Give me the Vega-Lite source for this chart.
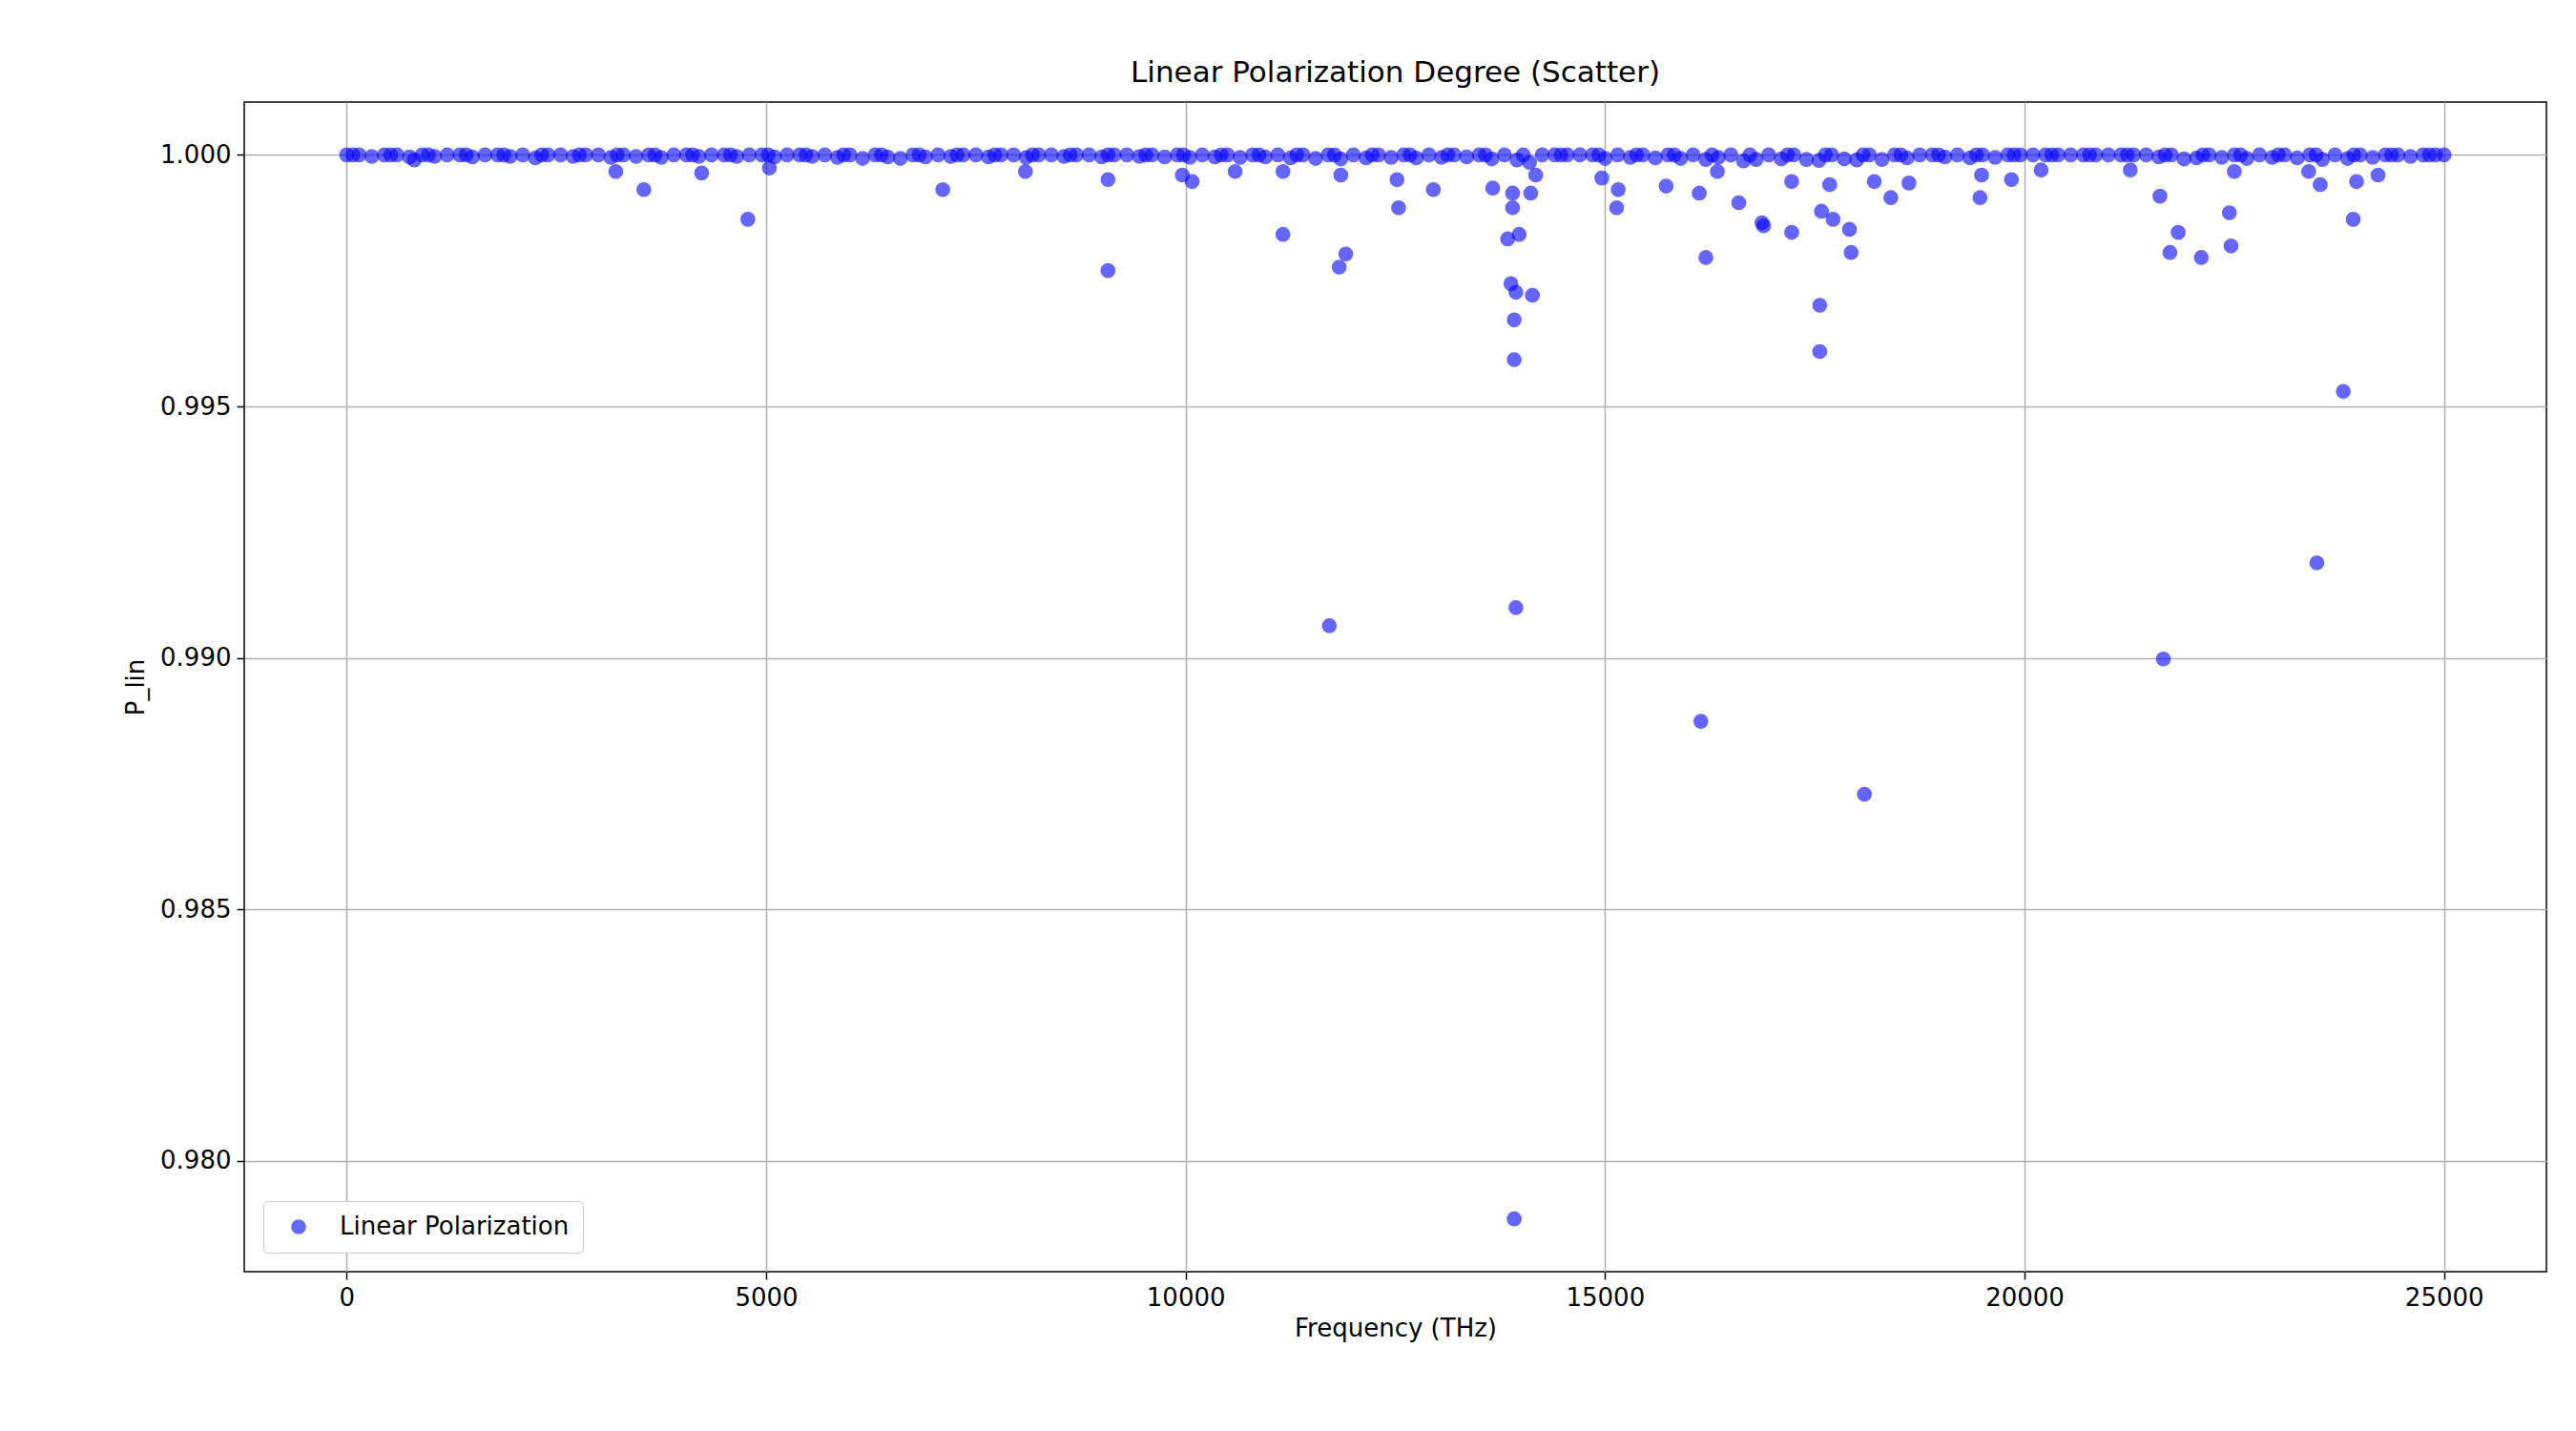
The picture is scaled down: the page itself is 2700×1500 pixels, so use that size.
{
  "$schema": "https://vega.github.io/schema/vega-lite/v6.json",
  "width": 2413,
  "height": 1226,
  "autosize": {"type": "none"},
  "padding": {"left": 256, "top": 107, "right": 31, "bottom": 167},
  "background": "white",
  "config": {
    "font": "DejaVu Sans",
    "view": {"stroke": "black", "strokeWidth": 1.5},
    "axis": {"labelFontSize": 26, "titleFontSize": 26, "titleFontWeight": "normal", "labelColor": "black", "titleColor": "black", "gridColor": "#b0b0b0", "gridWidth": 1.5, "tickColor": "black", "tickSize": 8, "tickWidth": 1.5, "domain": false, "labelPadding": 6}
  },
  "title": {"text": "Linear Polarization Degree (Scatter)", "fontSize": 31, "fontWeight": "normal", "offset": 14},
  "data": {
    "values": [
      {"f":0,"p":1},{"f":150,"p":1},{"f":300,"p":0.99997},{"f":450,"p":1},{"f":600,"p":1},{"f":750,"p":0.99996},{"f":900,"p":1},{"f":1050,"p":0.99997},{"f":1200,"p":1},{"f":1350,"p":1},
      {"f":1500,"p":0.99996},{"f":1650,"p":1},{"f":1800,"p":1},{"f":1950,"p":0.99997},{"f":2100,"p":1},{"f":2250,"p":0.99994},{"f":2400,"p":1},{"f":2550,"p":1},{"f":2700,"p":0.99997},{"f":2850,"p":1},
      {"f":3000,"p":1},{"f":3150,"p":0.99995},{"f":3300,"p":1},{"f":3450,"p":0.99997},{"f":3600,"p":1},{"f":3750,"p":0.99995},{"f":3900,"p":1},{"f":4050,"p":1},{"f":4200,"p":0.99997},{"f":4350,"p":1},
      {"f":4500,"p":1},{"f":4650,"p":0.99997},{"f":4800,"p":1},{"f":4950,"p":1},{"f":5100,"p":0.99996},{"f":5250,"p":1},{"f":5400,"p":1},{"f":5550,"p":0.99997},{"f":5700,"p":1},{"f":5850,"p":0.99995},
      {"f":6000,"p":1},{"f":6150,"p":0.99993},{"f":6300,"p":1},{"f":6450,"p":0.99996},{"f":6600,"p":0.99993},{"f":6750,"p":1},{"f":6900,"p":0.99996},{"f":7050,"p":1},{"f":7200,"p":0.99997},{"f":7350,"p":1},
      {"f":7500,"p":1},{"f":7650,"p":0.99996},{"f":7800,"p":1},{"f":7950,"p":1},{"f":8100,"p":0.99995},{"f":8250,"p":1},{"f":8400,"p":1},{"f":8550,"p":0.99997},{"f":8700,"p":1},{"f":8850,"p":1},
      {"f":9000,"p":0.99996},{"f":9150,"p":1},{"f":9300,"p":1},{"f":9450,"p":0.99997},{"f":9600,"p":1},{"f":9750,"p":0.99996},{"f":9900,"p":1},{"f":10050,"p":0.99995},{"f":10200,"p":1},{"f":10350,"p":0.99996},
      {"f":10500,"p":1},{"f":10650,"p":0.99995},{"f":10800,"p":1},{"f":10950,"p":0.99996},{"f":11100,"p":1},{"f":11250,"p":0.99994},{"f":11400,"p":1},{"f":11550,"p":0.99993},{"f":11700,"p":1},{"f":11850,"p":0.99992},
      {"f":12000,"p":1},{"f":12150,"p":0.99994},{"f":12300,"p":1},{"f":12450,"p":0.99995},{"f":12600,"p":1},{"f":12750,"p":0.99994},{"f":12900,"p":1},{"f":13050,"p":0.99995},{"f":13200,"p":1},{"f":13350,"p":0.99996},
      {"f":13500,"p":1},{"f":13650,"p":0.99992},{"f":13800,"p":1},{"f":13950,"p":0.9999},{"f":14100,"p":0.99985},{"f":14250,"p":1},{"f":14400,"p":1},{"f":14550,"p":1},{"f":14700,"p":1},{"f":14850,"p":1},
      {"f":15000,"p":0.99993},{"f":15150,"p":1},{"f":15300,"p":0.99995},{"f":15450,"p":1},{"f":15600,"p":0.99994},{"f":15750,"p":1},{"f":15900,"p":0.99993},{"f":16050,"p":1},{"f":16200,"p":0.99991},{"f":16350,"p":0.99995},
      {"f":16500,"p":1},{"f":16650,"p":0.99988},{"f":16800,"p":0.99991},{"f":16950,"p":1},{"f":17100,"p":0.99992},{"f":17250,"p":1},{"f":17400,"p":0.99991},{"f":17550,"p":0.99989},{"f":17700,"p":1},{"f":17850,"p":0.99992},
      {"f":18000,"p":0.9999},{"f":18150,"p":1},{"f":18300,"p":0.99991},{"f":18450,"p":1},{"f":18600,"p":0.99994},{"f":18750,"p":1},{"f":18900,"p":1},{"f":19050,"p":0.99996},{"f":19200,"p":1},{"f":19350,"p":0.99994},
      {"f":19500,"p":1},{"f":19650,"p":0.99995},{"f":19800,"p":1},{"f":19950,"p":1},{"f":20100,"p":1},{"f":20250,"p":1},{"f":20400,"p":1},{"f":20550,"p":1},{"f":20700,"p":1},{"f":20850,"p":1},
      {"f":21000,"p":1},{"f":21150,"p":1},{"f":21300,"p":1},{"f":21450,"p":1},{"f":21600,"p":0.99996},{"f":21750,"p":1},{"f":21900,"p":0.99992},{"f":22050,"p":0.99994},{"f":22200,"p":1},{"f":22350,"p":0.99995},
      {"f":22500,"p":1},{"f":22650,"p":0.99993},{"f":22800,"p":1},{"f":22950,"p":0.99995},{"f":23100,"p":1},{"f":23250,"p":0.99994},{"f":23400,"p":1},{"f":23550,"p":0.99991},{"f":23700,"p":1},{"f":23850,"p":0.99993},
      {"f":24000,"p":1},{"f":24150,"p":0.99995},{"f":24300,"p":1},{"f":24450,"p":1},{"f":24600,"p":0.99997},{"f":24750,"p":1},{"f":24900,"p":1},{"f":25000,"p":1},
      {"f":75,"p":1},{"f":525,"p":1},{"f":975,"p":1},{"f":1425,"p":1},{"f":1875,"p":1},{"f":2325,"p":1},{"f":2775,"p":1},{"f":3225,"p":1},{"f":3675,"p":1},{"f":4125,"p":1},
      {"f":4575,"p":1},{"f":5025,"p":1},{"f":5475,"p":1},{"f":5925,"p":1},{"f":6375,"p":1},{"f":6825,"p":1},{"f":7275,"p":1},{"f":7725,"p":1},{"f":8175,"p":1},{"f":8625,"p":1},
      {"f":9075,"p":1},{"f":9525,"p":1},{"f":9975,"p":1},{"f":10425,"p":1},{"f":10875,"p":1},{"f":11325,"p":1},{"f":11775,"p":1},{"f":12225,"p":1},{"f":12675,"p":1},{"f":13125,"p":1},
      {"f":13575,"p":1},{"f":14025,"p":1},{"f":14475,"p":1},{"f":14925,"p":1},{"f":15375,"p":1},{"f":15825,"p":1},{"f":16275,"p":1},{"f":16725,"p":1},{"f":17175,"p":1},{"f":17625,"p":1},
      {"f":18075,"p":1},{"f":18525,"p":1},{"f":18975,"p":1},{"f":19425,"p":1},{"f":19875,"p":1},{"f":20325,"p":1},{"f":20775,"p":1},{"f":21225,"p":1},{"f":21675,"p":1},{"f":22125,"p":1},
      {"f":22575,"p":1},{"f":23025,"p":1},{"f":23475,"p":1},{"f":23925,"p":1},{"f":24375,"p":1},{"f":24825,"p":1},
      {"f":807,"p":0.9999},{"f":3209,"p":0.99967},{"f":3543,"p":0.99931},{"f":4232,"p":0.99964},{"f":4783,"p":0.99872},{"f":5039,"p":0.99974},
      {"f":7106,"p":0.99931},{"f":8091,"p":0.99967},{"f":9075,"p":0.99951},{"f":9075,"p":0.9977},{"f":9961,"p":0.9996},{"f":10079,"p":0.99947},
      {"f":10591,"p":0.99967},{"f":11161,"p":0.99967},{"f":11161,"p":0.99842},{"f":11713,"p":0.99064},{"f":11831,"p":0.99777},{"f":11909,"p":0.99803},
      {"f":11850,"p":0.9996},{"f":12539,"p":0.99895},{"f":12520,"p":0.99951},{"f":12953,"p":0.99931},{"f":13661,"p":0.99934},{"f":13839,"p":0.99833},
      {"f":13878,"p":0.99744},{"f":13917,"p":0.99672},{"f":13917,"p":0.99593},{"f":13937,"p":0.991},{"f":13917,"p":0.97885},{"f":13937,"p":0.99727},
      {"f":13976,"p":0.99842},{"f":14134,"p":0.99721},{"f":13898,"p":0.99895},{"f":13898,"p":0.99924},{"f":14114,"p":0.99924},{"f":14173,"p":0.9996},
      {"f":14961,"p":0.99954},{"f":15138,"p":0.99895},{"f":15157,"p":0.99931},{"f":15728,"p":0.99938},{"f":16122,"p":0.99924},{"f":16142,"p":0.98874},
      {"f":16201,"p":0.99796},{"f":16594,"p":0.99905},{"f":16339,"p":0.99967},{"f":16870,"p":0.99865},{"f":16890,"p":0.99859},{"f":17224,"p":0.99846},
      {"f":17224,"p":0.99947},{"f":17559,"p":0.99701},{"f":17559,"p":0.99609},{"f":17579,"p":0.99888},{"f":17717,"p":0.99872},{"f":17677,"p":0.99941},
      {"f":17913,"p":0.99852},{"f":17933,"p":0.99806},{"f":18091,"p":0.98729},{"f":18209,"p":0.99947},{"f":18406,"p":0.99915},{"f":18622,"p":0.99944},
      {"f":19469,"p":0.99915},{"f":19488,"p":0.9996},{"f":19843,"p":0.99951},{"f":20197,"p":0.9997},{"f":21614,"p":0.99918},{"f":21654,"p":0.98998},
      {"f":21732,"p":0.99806},{"f":21831,"p":0.99846},{"f":22106,"p":0.99796},{"f":22441,"p":0.99885},{"f":22461,"p":0.99819},{"f":22500,"p":0.99967},
      {"f":23484,"p":0.99189},{"f":23524,"p":0.99941},{"f":23799,"p":0.9953},{"f":23917,"p":0.99872},{"f":23957,"p":0.99947},{"f":24213,"p":0.9996},
      {"f":23386,"p":0.99967},{"f":21260,"p":0.9997}
    ]
  },
  "mark": {"type": "point", "filled": true, "shape": "circle", "size": 200, "opacity": 0.6, "stroke": "blue", "strokeWidth": 1.5, "clip": true},
  "encoding": {
    "x": {"field": "f", "type": "quantitative", "scale": {"domain": [-1220, 26220], "nice": false, "zero": false}, "axis": {"values": [0, 5000, 10000, 15000, 20000, 25000], "format": "d", "title": "Frequency (THz)", "titlePadding": 6}},
    "y": {"field": "p", "type": "quantitative", "scale": {"domain": [0.9778, 1.00105], "nice": false, "zero": false}, "axis": {"values": [0.98, 0.985, 0.99, 0.995, 1.0], "format": ".3f", "title": "P_lin", "titlePadding": 12}},
    "color": {"datum": "Linear Polarization", "type": "nominal", "scale": {"range": ["blue"]}, "legend": {"title": null, "orient": "bottom-left", "offset": 20, "labelFontSize": 26, "labelLimit": 600, "symbolSize": 200, "symbolOpacity": 0.6, "symbolOffset": 10, "labelOffset": 30, "fillColor": "white", "strokeColor": "#cccccc", "padding": 14, "cornerRadius": 4, "labelColor": "black"}}
  }
}
